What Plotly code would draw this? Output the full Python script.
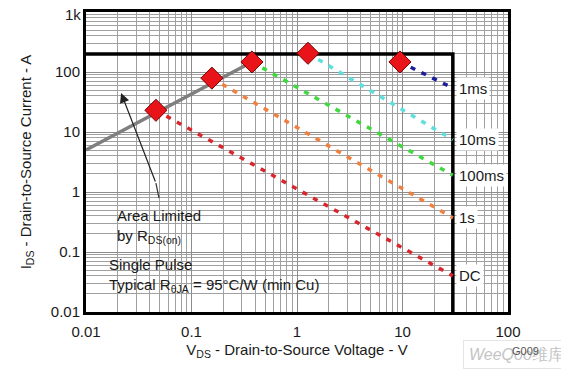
import numpy as np
import plotly.graph_objects as go

# ---- data ----
rdson_vds = [0.01, 0.374]
rdson_ids = [5.0, 147.0]

series_names = ["DC", "1s", "100ms", "10ms", "1ms"]
series_vds = [[0.046, 30.0], [0.156, 30.0], [0.374, 30.0], [1.27, 30.0], [9.46, 30.0]]
series_ids = [[23.0, 0.04], [79.0, 0.37], [147.0, 1.9], [205.0, 7.4], [147.0, 54.0]]
series_colors = ["#d9262c", "#f08040", "#3fd93f", "#5fdede", "#1c1c9c"]

diamond_vds = [0.046, 0.156, 0.374, 1.27, 9.46]
diamond_ids = [23.0, 79.0, 147.0, 205.0, 147.0]

vds_max = 30.0
ids_max = 200.0

arrow_vds = [0.0492, 0.046, 0.0215]
arrow_ids = [0.79, 1.41, 44.7]

x_ticks = [0.01, 0.1, 1, 10, 100]
x_ticktext = ["0.01", "0.1", "1", "10", "100"]
y_ticks = [0.01, 0.1, 1, 10, 100, 1000]
y_ticktext = ["0.01", "0.1", "1", "10", "100", "1k"]

FONT = "Liberation Sans, Arial, sans-serif"

def minor_vals(lo_exp, hi_exp):
    return [m * 10.0 ** e for e in range(lo_exp, hi_exp) for m in range(2, 10)]

fig = go.Figure()

# limit box (200 A / 30 V)
fig.add_trace(go.Scatter(x=[x_ticks[0], vds_max, vds_max], y=[ids_max, ids_max, y_ticks[0]],
                         mode="lines", line=dict(color="black", width=3.5),
                         hoverinfo="skip", showlegend=False))

# RDS(on) limit
fig.add_trace(go.Scatter(x=rdson_vds, y=rdson_ids, mode="lines",
                         line=dict(color="#7f7f7f", width=3.5), showlegend=False))

# pulse lines
for name, xs, ys, c in zip(series_names, series_vds, series_ids, series_colors):
    fig.add_trace(go.Scatter(x=xs, y=ys, mode="lines", name=name,
                             line=dict(color=c, width=3.5, dash="5px,7px"), showlegend=False))

# diamonds
fig.add_trace(go.Scatter(x=diamond_vds, y=diamond_ids, mode="markers",
                         marker=dict(symbol="diamond", size=17, color="#e8141a",
                                     line=dict(color="#7a0000", width=1)),
                         showlegend=False))

# arrow shaft (bent part)
fig.add_trace(go.Scatter(x=arrow_vds[:2], y=arrow_ids[:2], mode="lines",
                         line=dict(color="#333333", width=1.2), showlegend=False,
                         hoverinfo="skip"))

annotations = []
annotations.append(dict(x=np.log10(arrow_vds[2]), y=np.log10(arrow_ids[2]),
                        ax=np.log10(arrow_vds[1]), ay=np.log10(arrow_ids[1]),
                        xref="x", yref="y", axref="x", ayref="y", text="",
                        showarrow=True, arrowhead=2, arrowsize=1.6, arrowwidth=1.2,
                        arrowcolor="#222222"))

# curve labels
label_y = [0.04, 0.37, 1.9, 7.4, 54.0]
for name, ly in zip(series_names, label_y):
    annotations.append(dict(x=np.log10(vds_max), y=np.log10(ly), xref="x", yref="y",
                            text=name, showarrow=False, xanchor="left", xshift=3,
                            font=dict(family=FONT, size=15, color="#1a1a1a"),
                            bgcolor="white", borderpad=2))

# text boxes
shapes = [
    dict(type="rect", xref="paper", yref="paper", x0=0.005, x1=0.29, y0=0.215, y1=0.375,
         fillcolor="white", line=dict(width=0), layer="between"),
    dict(type="rect", xref="paper", yref="paper", x0=0.017, x1=0.59, y0=0.035, y1=0.207,
         fillcolor="white", line=dict(width=0), layer="between"),
]

def ptxt(x, y, text, size=15):
    return dict(x=x, y=y, xref="paper", yref="paper", text=text, showarrow=False,
                xanchor="left", yanchor="middle",
                font=dict(family=FONT, size=size, color="#1a1a1a"))

annotations += [
    ptxt(0.068, 0.32, "Area Limited"),
    ptxt(0.068, 0.253, "by R<sub>DS(on)</sub>"),
    ptxt(0.05, 0.157, "Single Pulse"),
    ptxt(0.05, 0.09, "Typical R<sub>θJA</sub> = 95°C/W (min Cu)"),
]

# top y tick label drawn as annotation, nudged down so it is not clipped at the page edge
annotations.append(dict(x=0, y=np.log10(y_ticks[-1]), xref="paper", yref="y",
                        text=y_ticktext[-1], showarrow=False, xanchor="right",
                        yanchor="middle", xshift=-3, yshift=-2,
                        font=dict(family=FONT, size=15, color="#1a1a1a")))
y_ticktext_axis = y_ticktext[:-1] + [""]

# watermark and figure code
annotations.append(dict(x=0.893, y=-0.143, xref="paper", yref="paper",
                        text="<i>WeeQoo</i>维库", showarrow=False, xanchor="left",
                        yanchor="middle", font=dict(family=FONT, size=16, color="#c4c4c4"),
                        bordercolor="#e4e4e4", borderwidth=1, borderpad=5))
annotations.append(dict(x=1.005, y=-0.13, xref="paper", yref="paper", text="G009",
                        showarrow=False, xanchor="left", yanchor="middle",
                        font=dict(family=FONT, size=11, color="#555555")))

axis_common = dict(type="log", showline=True, linecolor="black", linewidth=3, mirror=True,
                   showgrid=True, gridcolor="#8c8c8c", gridwidth=1, ticks="",
                   zeroline=False, automargin=False,
                   tickfont=dict(family=FONT, size=15, color="#1a1a1a"))

# page body has an 8px default margin, so the figure is sized/margined to compensate
fig.update_layout(
    width=561, height=371,
    margin=dict(l=78, r=61, t=4, b=67),
    paper_bgcolor="white", plot_bgcolor="white",
    xaxis=dict(axis_common, range=[-2, 2], tickvals=x_ticks, ticktext=x_ticktext,
               ticklabelstandoff=4,
               minor=dict(showgrid=True, gridcolor="#a0a0a0", gridwidth=1, ticks="",
                          tickvals=minor_vals(-2, 2)),
               title=dict(text="V<sub>DS</sub> - Drain-to-Source Voltage - V",
                          font=dict(family=FONT, size=15, color="#1a1a1a"), standoff=6)),
    yaxis=dict(axis_common, range=[-2, 3], tickvals=y_ticks, ticktext=y_ticktext_axis,
               minor=dict(showgrid=True, gridcolor="#a0a0a0", gridwidth=1, ticks="",
                          tickvals=minor_vals(-2, 3)),
               title=dict(text="I<sub>DS</sub> - Drain-to-Source Current - A",
                          font=dict(family=FONT, size=15, color="#1a1a1a"), standoff=16)),
    shapes=shapes, annotations=annotations, showlegend=False,
)

fig.write_html("out.html")
